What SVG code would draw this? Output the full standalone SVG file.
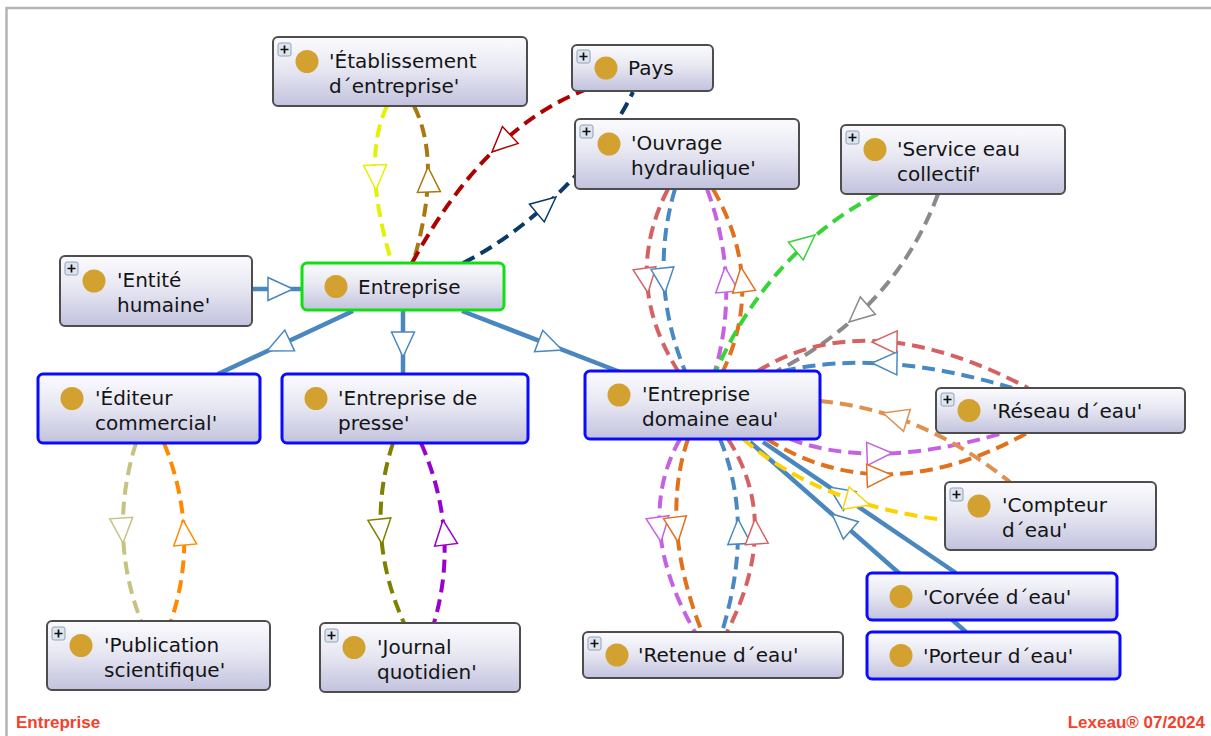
<svg xmlns="http://www.w3.org/2000/svg" xmlns:xlink="http://www.w3.org/1999/xlink" width="1211" height="736" viewBox="0 0 1211 736">
<style>
.box{fill:url(#nodeGrad);stroke:#4d4d4d;stroke-width:2}
.blue .box{stroke:#0a0aff;stroke-width:3}
.green .box{stroke:#10e010;stroke-width:3}
.dot{fill:#d3a12f}
.lbl{font-family:"DejaVu Sans",Verdana,sans-serif;font-size:20px;fill:#141414}
.dash{fill:none;stroke-width:4;stroke-dasharray:13 7}
.solid{fill:none;stroke:#4a87bf;stroke-width:4.5}
.ar{fill:#ffffff;stroke-width:1.5}
.foot{font-family:"Liberation Sans",Arial,sans-serif;font-weight:bold;font-size:17px;fill:#f5402c}
</style>
<defs>
<linearGradient id="nodeGrad" x1="0" y1="0" x2="0" y2="1">
<stop offset="0" stop-color="#fbfbfe"/>
<stop offset="0.45" stop-color="#e8e8f3"/>
<stop offset="1" stop-color="#c2c2de"/>
</linearGradient>
<polygon id="tri" points="0,0 -25,-11.5 -25,11.5"/>
<g id="plus">
<rect x="0" y="0" width="13" height="13" rx="2" fill="#dfe5ee" stroke="#8ea2bb" stroke-width="1"/>
<path d="M6.5,2.5V10.5M2.5,6.5H10.5" stroke="#111" stroke-width="1.7"/>
</g>
</defs>
<rect x="0" y="0" width="1211" height="736" fill="#ffffff"/>
<path d="M6.5,736V8H1211" fill="none" stroke="#b4b4b4" stroke-width="2.5"/>

<g id="connectors">
<!-- solid subclass links -->
<path class="solid" d="M252,289 L303,289"/>
<use href="#tri" class="ar" stroke="#4a87bf" transform="translate(293,289) rotate(0)"/>
<path class="solid" d="M353,311 L218,374"/>
<use href="#tri" class="ar" stroke="#4a87bf" transform="translate(267,351) rotate(155)"/>
<path class="solid" d="M403,310 L403,374"/>
<use href="#tri" class="ar" stroke="#4a87bf" transform="translate(403,357) rotate(90)"/>
<path class="solid" d="M462,311 L620,372"/>
<use href="#tri" class="ar" stroke="#4a87bf" transform="translate(562,350) rotate(21)"/>
<path class="solid" d="M750,442 L966,632"/>
<use href="#tri" class="ar" stroke="#4a87bf" transform="translate(832,514) rotate(221)"/>
<path class="solid" d="M763,442 L956,573"/>
<use href="#tri" class="ar" stroke="#4a87bf" transform="translate(829,487) rotate(214)"/>

<!-- Établissement / Entreprise -->
<path class="dash" stroke="#e2f200" d="M387,106 Q360.5,161.5 392,263"/>
<use href="#tri" class="ar" stroke="#e2f200" transform="translate(376,190) rotate(88)"/>
<path class="dash" stroke="#a9780f" d="M414,106 Q442.5,162.5 413,263"/>
<use href="#tri" class="ar" stroke="#a9780f" transform="translate(428,167) rotate(268)"/>
<!-- Entreprise / Pays -->
<path class="dash" stroke="#ad0000" d="M412,263 Q485.5,128 585,90"/>
<use href="#tri" class="ar" stroke="#ad0000" transform="translate(492,152) rotate(137)"/>
<path class="dash" stroke="#0b3a68" d="M463,263 C510,240 590,180 633,92"/>
<use href="#tri" class="ar" stroke="#0b3a68" transform="translate(556,197) rotate(-40)"/>
<!-- Ouvrage / EDE -->
<path class="dash" stroke="#d56262" d="M668,189 Q621,280.5 678,371"/>
<use href="#tri" class="ar" stroke="#d56262" transform="translate(648,293) rotate(82)"/>
<path class="dash" stroke="#4a88c2" d="M675,189 Q648,280.5 685,371"/>
<use href="#tri" class="ar" stroke="#4a88c2" transform="translate(665,293) rotate(84)"/>
<path class="dash" stroke="#c462e2" d="M707,189 Q741,280.5 715,371"/>
<use href="#tri" class="ar" stroke="#c462e2" transform="translate(725,267) rotate(265)"/>
<path class="dash" stroke="#e0721e" d="M713,189 Q766,280.5 723,371"/>
<use href="#tri" class="ar" stroke="#e0721e" transform="translate(741,267) rotate(263)"/>
<!-- Service / EDE -->
<path class="dash" stroke="#37d337" d="M878,194 Q770,250 716,371"/>
<use href="#tri" class="ar" stroke="#37d337" transform="translate(815,235) rotate(-40)"/>
<path class="dash" stroke="#8a8a8a" d="M938,194 Q895,310 777,371"/>
<use href="#tri" class="ar" stroke="#8a8a8a" transform="translate(849,322) rotate(139)"/>
<!-- Réseau / EDE -->
<path class="dash" stroke="#d56262" d="M758,371 Q867,303 1028,388"/>
<use href="#tri" class="ar" stroke="#d56262" transform="translate(872,342) rotate(181)"/>
<path class="dash" stroke="#4a88c2" d="M783,371 Q882.5,348.5 1012,388"/>
<use href="#tri" class="ar" stroke="#4a88c2" transform="translate(872,363) rotate(181)"/>
<path class="dash" stroke="#c462e2" d="M790,439 Q873.5,471 1003,433"/>
<use href="#tri" class="ar" stroke="#c462e2" transform="translate(892,453) rotate(-2)"/>
<path class="dash" stroke="#e0721e" d="M767,439 Q883,512.5 1027,433"/>
<use href="#tri" class="ar" stroke="#e0721e" transform="translate(892,475) rotate(-2)"/>
<!-- Compteur / EDE -->
<path class="dash" stroke="#e0904e" d="M820,401 Q920,410 1010,482"/>
<use href="#tri" class="ar" stroke="#e0904e" transform="translate(883,413) rotate(197)"/>
<path class="dash" stroke="#fcd200" d="M743,439 Q820,505 945,520"/>
<use href="#tri" class="ar" stroke="#fcd200" transform="translate(870,505) rotate(16)"/>
<!-- Retenue / EDE -->
<path class="dash" stroke="#c462e2" d="M680,439 Q632.5,523.5 695,632"/>
<use href="#tri" class="ar" stroke="#c462e2" transform="translate(661,542) rotate(82)"/>
<path class="dash" stroke="#e0721e" d="M688,439 Q659,523.5 702,632"/>
<use href="#tri" class="ar" stroke="#e0721e" transform="translate(678,542) rotate(83)"/>
<path class="dash" stroke="#4a88c2" d="M720,439 Q755,523.5 722,632"/>
<use href="#tri" class="ar" stroke="#4a88c2" transform="translate(738,519) rotate(267)"/>
<path class="dash" stroke="#d56262" d="M728,439 Q782.5,523.5 727,632"/>
<use href="#tri" class="ar" stroke="#d56262" transform="translate(755,519) rotate(266)"/>
<!-- Éditeur / Publication -->
<path class="dash" stroke="#c6c282" d="M136,443 Q107.5,534 141,621"/>
<use href="#tri" class="ar" stroke="#c6c282" transform="translate(123,543) rotate(86)"/>
<path class="dash" stroke="#ff8a00" d="M164,443 Q200.5,534 171,621"/>
<use href="#tri" class="ar" stroke="#ff8a00" transform="translate(183,520) rotate(265)"/>
<!-- Presse / Journal -->
<path class="dash" stroke="#7f7f00" d="M393,443 Q363.5,533 404,623"/>
<use href="#tri" class="ar" stroke="#7f7f00" transform="translate(382,544) rotate(84)"/>
<path class="dash" stroke="#9a00d0" d="M421,443 Q460.5,533 434,623"/>
<use href="#tri" class="ar" stroke="#9a00d0" transform="translate(443,520) rotate(263)"/>
</g>

<g id="node-etablissement">
<rect class="box" x="273" y="37" width="254" height="69" rx="5"/>
<use href="#plus" x="278" y="43"/>
<circle class="dot" cx="307" cy="61.5" r="11.5"/>
<text class="lbl" x="329" y="67.5">'Établissement</text>
<text class="lbl" x="329" y="92.5">d´entreprise'</text>
</g>
<g id="node-pays">
<rect class="box" x="572" y="45" width="141" height="46" rx="5"/>
<use href="#plus" x="577" y="50"/>
<circle class="dot" cx="606" cy="68" r="11.5"/>
<text class="lbl" x="628" y="75">Pays</text>
</g>
<g id="node-ouvrage">
<rect class="box" x="575" y="119" width="224" height="70" rx="5"/>
<use href="#plus" x="580" y="125"/>
<circle class="dot" cx="609" cy="144" r="11.5"/>
<text class="lbl" x="631" y="150">'Ouvrage</text>
<text class="lbl" x="631" y="175">hydraulique'</text>
</g>
<g id="node-service">
<rect class="box" x="841" y="125" width="224" height="69" rx="5"/>
<use href="#plus" x="846" y="131"/>
<circle class="dot" cx="875" cy="149.5" r="11.5"/>
<text class="lbl" x="897" y="155.5">'Service eau</text>
<text class="lbl" x="897" y="180.5">collectif'</text>
</g>
<g id="node-entite">
<rect class="box" x="60" y="256" width="192" height="70" rx="5"/>
<use href="#plus" x="65" y="262"/>
<circle class="dot" cx="94" cy="281" r="11.5"/>
<text class="lbl" x="117" y="287">'Entité</text>
<text class="lbl" x="117" y="312">humaine'</text>
</g>
<g id="node-entreprise" class="green">
<rect class="box" x="302" y="263" width="202" height="47" rx="5"/>
<circle class="dot" cx="336" cy="286.5" r="11.5"/>
<text class="lbl" x="358" y="293.5">Entreprise</text>
</g>
<g id="node-editeur" class="blue">
<rect class="box" x="38" y="374" width="222" height="69" rx="5"/>
<circle class="dot" cx="72" cy="398.5" r="11.5"/>
<text class="lbl" x="95" y="404.5">'Éditeur</text>
<text class="lbl" x="95" y="429.5">commercial'</text>
</g>
<g id="node-presse" class="blue">
<rect class="box" x="282" y="374" width="246" height="69" rx="5"/>
<circle class="dot" cx="316" cy="398.5" r="11.5"/>
<text class="lbl" x="338" y="404.5">'Entreprise de</text>
<text class="lbl" x="338" y="429.5">presse'</text>
</g>
<g id="node-ede" class="blue">
<rect class="box" x="585" y="371" width="235" height="68" rx="5"/>
<circle class="dot" cx="619" cy="395" r="11.5"/>
<text class="lbl" x="642" y="401">'Entreprise</text>
<text class="lbl" x="642" y="426">domaine eau'</text>
</g>
<g id="node-reseau">
<rect class="box" x="936" y="388" width="249" height="45" rx="5"/>
<use href="#plus" x="941" y="393"/>
<circle class="dot" cx="969" cy="410.5" r="11.5"/>
<text class="lbl" x="992" y="417.5">'Réseau d´eau'</text>
</g>
<g id="node-compteur">
<rect class="box" x="945" y="482" width="211" height="68" rx="5"/>
<use href="#plus" x="950" y="488"/>
<circle class="dot" cx="979" cy="506" r="11.5"/>
<text class="lbl" x="1002" y="512">'Compteur</text>
<text class="lbl" x="1002" y="537">d´eau'</text>
</g>
<g id="node-corvee" class="blue">
<rect class="box" x="867" y="573" width="250" height="47" rx="5"/>
<circle class="dot" cx="901" cy="596.5" r="11.5"/>
<text class="lbl" x="923" y="603.5">'Corvée d´eau'</text>
</g>
<g id="node-porteur" class="blue">
<rect class="box" x="867" y="632" width="253" height="47" rx="5"/>
<circle class="dot" cx="901" cy="655.5" r="11.5"/>
<text class="lbl" x="923" y="662.5">'Porteur d´eau'</text>
</g>
<g id="node-publication">
<rect class="box" x="47" y="621" width="223" height="69" rx="5"/>
<use href="#plus" x="52" y="627"/>
<circle class="dot" cx="81" cy="645.5" r="11.5"/>
<text class="lbl" x="104" y="651.5">'Publication</text>
<text class="lbl" x="104" y="676.5">scientifique'</text>
</g>
<g id="node-journal">
<rect class="box" x="320" y="623" width="200" height="69" rx="5"/>
<use href="#plus" x="325" y="629"/>
<circle class="dot" cx="354" cy="647.5" r="11.5"/>
<text class="lbl" x="377" y="653.5">'Journal</text>
<text class="lbl" x="377" y="678.5">quotidien'</text>
</g>
<g id="node-retenue">
<rect class="box" x="583" y="632" width="260" height="46" rx="5"/>
<use href="#plus" x="588" y="637"/>
<circle class="dot" cx="617" cy="655" r="11.5"/>
<text class="lbl" x="638" y="662">'Retenue d´eau'</text>
</g>

<text class="foot" x="16" y="728">Entreprise</text>
<text class="foot" x="1205" y="728" text-anchor="end">Lexeau® 07/2024</text>
</svg>
